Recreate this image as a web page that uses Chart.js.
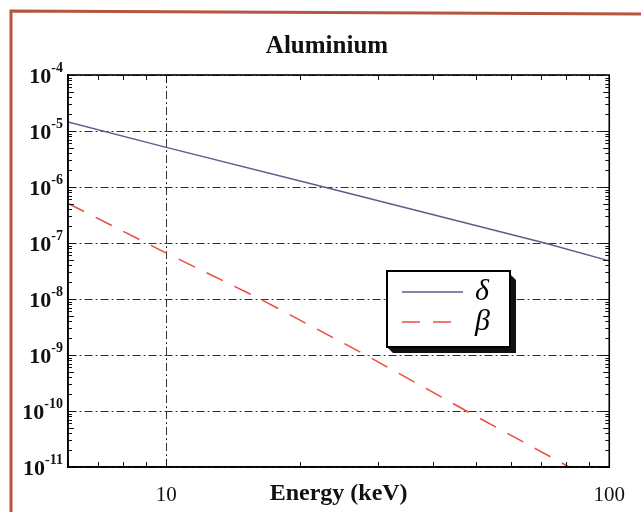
<!DOCTYPE html>
<html>
<head>
<meta charset="utf-8">
<title>Aluminium</title>
<script src="https://cdn.jsdelivr.net/npm/chart.js@4.4.1/dist/chart.umd.min.js"></script>
<style>
  html, body { margin: 0; padding: 0; background: #fff; }
  canvas { display: block; }
</style>
</head>
<body>
<canvas id="alChart" width="641" height="512"></canvas>
<script>
// values
const deltaEnergy = [6, 10, 22.7, 71.5, 100];
const deltaValues = [1.45e-5, 5.1e-6, 1.0e-6, 1.0e-7, 4.8e-8];
const betaEnergy = [6, 10, 16.3, 28.2, 47.6, 81.2];
const betaValues = [5.1e-7, 6.6e-8, 1.0e-8, 1.0e-9, 1.0e-10, 1.0e-11];
const xTickLabels = [10, 100];
const yTickExponents = [-4, -5, -6, -7, -8, -9, -10, -11];
const seriesLabels = ['δ', 'β'];

const serif = '"Liberation Serif", "Times New Roman", serif';
const deltaColor = '#5b5e8c';
const betaColor = '#ee4b3c';

const toPoints = (xs, ys) => xs.map((x, i) => ({ x: x, y: ys[i] }));

// scanned page edge (reddish frame line top and left)
const pageEdge = {
  id: 'pageEdge',
  beforeDraw(chart) {
    const ctx = chart.ctx;
    ctx.save();
    ctx.fillStyle = '#fff';
    ctx.fillRect(0, 0, chart.width, chart.height);
    ctx.strokeStyle = '#b4553f';
    ctx.lineWidth = 3;
    ctx.beginPath();
    ctx.moveTo(11, chart.height);
    ctx.lineTo(11, 11);
    ctx.lineTo(chart.width, 14);
    ctx.stroke();
    ctx.restore();
  }
};

// box around the plot, inward ticks, y labels with exponents, boxed legend
const decorations = {
  id: 'decorations',
  afterDatasetsDraw(chart) {
    const { ctx, chartArea: a, scales } = chart;
    const x = scales.x, y = scales.y;
    ctx.save();

    ctx.strokeStyle = '#111';
    ctx.lineWidth = 1;
    ctx.beginPath();
    for (let e = Math.floor(Math.log10(x.min)); e < Math.log10(x.max); e++) {
      for (let m = 1; m < 10; m++) {
        const v = m * Math.pow(10, e);
        if (v < x.min * 0.999 || v > x.max * 1.001) continue;
        const px = Math.round(x.getPixelForValue(v)) + 0.5;
        const len = m === 1 ? 8 : 5;
        ctx.moveTo(px, a.bottom); ctx.lineTo(px, a.bottom - len);
        ctx.moveTo(px, a.top); ctx.lineTo(px, a.top + len);
      }
    }
    for (let e = Math.round(Math.log10(y.min)); e < Math.round(Math.log10(y.max)); e++) {
      for (let m = 1; m < 10; m++) {
        const v = m * Math.pow(10, e);
        const py = Math.round(y.getPixelForValue(v)) + 0.5;
        const len = m === 1 ? 8 : (m === 5 ? 6 : 4);
        ctx.moveTo(a.left, py); ctx.lineTo(a.left + len, py);
        ctx.moveTo(a.right, py); ctx.lineTo(a.right - len, py);
      }
    }
    ctx.stroke();

    ctx.lineWidth = 1.6;
    ctx.strokeStyle = '#000';
    ctx.strokeRect(a.left, a.top, a.right - a.left, a.bottom - a.top);

    // y tick labels as 10 with raised exponent
    ctx.fillStyle = '#111';
    ctx.textBaseline = 'alphabetic';
    const right = a.left - 5;
    yTickExponents.forEach(exp => {
      const py = y.getPixelForValue(Math.pow(10, exp));
      const sup = '-' + Math.abs(exp);
      ctx.font = 'bold 14px ' + serif;
      const supW = ctx.measureText(sup).width;
      ctx.font = 'bold 22px ' + serif;
      const baseW = ctx.measureText('10').width;
      ctx.fillText('10', right - supW - baseW, py + 8);
      ctx.font = 'bold 14px ' + serif;
      ctx.fillText(sup, right - supW, py - 3);
    });

    // legend box with drop shadow
    const bx = a.left + 319, by = a.top + 196, bw = 123, bh = 76;
    ctx.fillStyle = '#111';
    ctx.beginPath();
    ctx.moveTo(bx + bw, by + 3);
    ctx.lineTo(bx + bw + 6, by + 9);
    ctx.lineTo(bx + bw + 6, by + bh + 6);
    ctx.lineTo(bx + 6, by + bh + 6);
    ctx.lineTo(bx, by + bh);
    ctx.lineTo(bx + bw, by + bh);
    ctx.closePath();
    ctx.fill();
    ctx.fillStyle = '#fff';
    ctx.fillRect(bx, by, bw, bh);
    ctx.lineWidth = 2;
    ctx.strokeStyle = '#000';
    ctx.strokeRect(bx, by, bw, bh);

    chart.data.datasets.forEach((ds, i) => {
      const ly = by + 21 + i * 30;
      ctx.strokeStyle = ds.borderColor;
      ctx.lineWidth = ds.borderWidth;
      ctx.setLineDash(ds.borderDash || []);
      ctx.beginPath();
      ctx.moveTo(bx + 15, ly);
      ctx.lineTo(bx + 76, ly);
      ctx.stroke();
      ctx.setLineDash([]);
      ctx.fillStyle = '#000';
      ctx.font = 'italic 30px ' + serif;
      ctx.textBaseline = 'middle';
      ctx.fillText(ds.label, bx + 88, ly);
    });
    ctx.restore();
  }
};

const gridStyle = {
  color: ctx => ctx.tick && ctx.tick.value ? '#333' : 'transparent',
  lineWidth: 1,
  drawTicks: false
};

new Chart(document.getElementById('alChart'), {
  type: 'line',
  data: {
    datasets: [
      {
        label: seriesLabels[0],
        data: toPoints(deltaEnergy, deltaValues),
        borderColor: deltaColor,
        borderWidth: 1.5,
        pointRadius: 0,
        tension: 0
      },
      {
        label: seriesLabels[1],
        data: toPoints(betaEnergy, betaValues),
        borderColor: betaColor,
        borderWidth: 1.5,
        borderDash: [18, 13],
        pointRadius: 0,
        tension: 0
      }
    ]
  },
  options: {
    responsive: false,
    animation: false,
    layout: { padding: { left: 42, right: 29, top: 0, bottom: 0 } },
    plugins: {
      legend: { display: false },
      tooltip: { enabled: false },
      title: {
        display: true,
        text: 'Aluminium',
        color: '#111',
        font: { family: serif, size: 25, weight: 'bold' },
        padding: { top: 32, bottom: 13 }
      }
    },
    scales: {
      x: {
        type: 'logarithmic',
        min: 6,
        max: 100,
        afterBuildTicks: s => { s.ticks = xTickLabels.map(v => ({ value: v })); },
        afterFit: s => { s.height = 45; },
        ticks: {
          color: '#111',
          padding: 16,
          maxRotation: 0,
          autoSkip: false,
          font: { family: serif, size: 21, weight: '500' },
          callback: v => String(v)
        },
        grid: gridStyle,
        border: { display: true, color: '#000', width: 1.6, dash: [8, 3, 2, 3] },
        title: {
          display: true,
          text: 'Energy (keV)',
          color: '#111',
          font: { family: serif, size: 24, weight: 'bold' },
          padding: { top: 0, bottom: 4 }
        }
      },
      y: {
        type: 'logarithmic',
        min: 1e-11,
        max: 1e-4,
        afterBuildTicks: s => { s.ticks = yTickExponents.map(e => ({ value: Math.pow(10, e) })); },
        afterFit: s => { s.width = 26; },
        ticks: { display: false },
        grid: gridStyle,
        border: { display: true, color: '#000', width: 1.6, dash: [8, 3, 2, 3] }
      }
    }
  },
  plugins: [pageEdge, decorations]
});
</script>
</body>
</html>
